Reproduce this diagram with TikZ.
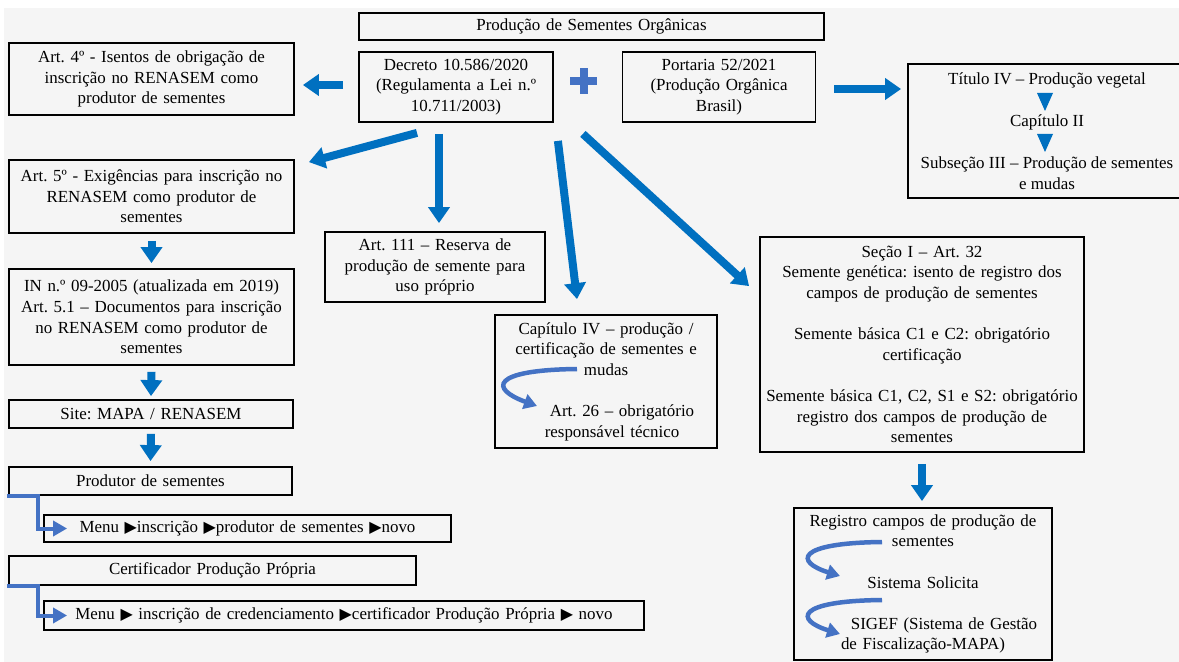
\documentclass[tikz,border=0pt]{standalone}
\usepackage{fontspec}
\setmainfont{Liberation Serif}
\newfontfamily\djv{DejaVu Sans}
\usetikzlibrary{arrows.meta,calc}
\definecolor{bgc}{HTML}{F5F5F5}
\definecolor{arrblue}{HTML}{0070C0}
\definecolor{lblue}{HTML}{4472C4}
\newcommand\tri{{\djv\fontsize{16}{16}\selectfont ▶}}
\frenchspacing
\begin{document}
\begin{tikzpicture}[x=1bp,y=-1bp,
  box/.style={draw=black, line width=1.8bp, inner sep=0pt, align=center, font=\fontsize{17}{20.7}\selectfont},
  txt/.style={inner sep=0pt, align=center, font=\fontsize{17}{20.7}\selectfont},
  bigarrow/.style={draw=arrblue, line width=8bp, -{Triangle[length=16bp,width=21bp]}},
  elbow/.style={draw=lblue, line width=4bp, -{Triangle[length=14bp,width=15bp]}},
  curvearrow/.style={draw=lblue, line width=4.5bp, -{Triangle[length=13bp,width=15bp]}},
]
\useasboundingbox (0,0) rectangle (1179,662);
\clip (0,0) rectangle (1179,662);
\fill[white] (0,0) rectangle (1179,662);
\fill[bgc] (4,8) rectangle (1179,662);

% boxes
\node[box, minimum width=465bp, minimum height=27bp, text width=455bp] (title) at (591.5,26.5) {Produção de Sementes Orgânicas};
\node[box, minimum width=194bp, minimum height=70bp, text width=186bp] (decreto) at (456,87) {Decreto 10.586/2020\\(Regulamenta a Lei n.º\\10.711/2003)};
\node[box, minimum width=193bp, minimum height=70bp, text width=185bp] (portaria) at (719,87) {Portaria 52/2021\\(Produção Orgânica\\Brasil)};
\node[box, minimum width=285bp, minimum height=72bp, text width=277bp] (art4) at (151.5,79) {Art. 4º - Isentos de obrigação de\\inscrição no RENASEM como\\produtor de sementes};
\node[box, minimum width=278bp, minimum height=134bp] (titulo) at (1047,131) {};
\node[box, minimum width=285bp, minimum height=73bp, text width=277bp] (art5) at (151.5,196.5) {Art. 5º - Exigências para inscrição no\\RENASEM como produtor de\\sementes};
\node[box, minimum width=285bp, minimum height=96bp, text width=277bp] (inbox) at (151.5,317) {IN n.º 09-2005 (atualizada em 2019)\\Art. 5.1 – Documentos para inscrição\\no RENASEM como produtor de\\sementes};
\node[box, minimum width=284bp, minimum height=28bp, text width=276bp] (site) at (151,414) {Site: MAPA / RENASEM};
\node[box, minimum width=283bp, minimum height=28bp, text width=275bp] (produtor) at (150.5,481) {Produtor de sementes};
\node[box, minimum width=407bp, minimum height=27bp, text width=399bp] (menu1) at (247.5,528.5) {Menu \tri inscrição \tri produtor de sementes \tri novo};
\node[box, minimum width=407bp, minimum height=29bp, text width=399bp] (cert) at (212.5,570.5) {Certificador Produção Própria};
\node[box, minimum width=600bp, minimum height=29bp, text width=592bp] (menu2) at (344,615.5) {Menu \tri\ inscrição de credenciamento \tri certificador Produção Própria \tri\ novo};
\node[box, minimum width=220bp, minimum height=70bp, text width=212bp] (art111) at (435,267) {Art. 111 – Reserva de\\produção de semente para\\uso próprio};
\node[box, minimum width=222bp, minimum height=133bp, text width=214bp] (cap4) at (606,381.5) {Capítulo IV – produção /\\certificação de sementes e\\mudas\\\mbox{}\\\hspace*{32bp}Art. 26 – obrigatório\\\hspace*{12bp}responsável técnico};
\node[box, minimum width=324bp, minimum height=215bp, text width=316bp] (secao) at (922,344.5) {Seção I – Art. 32\\Semente genética: isento de registro dos\\campos de produção de sementes\\\mbox{}\\Semente básica C1 e C2: obrigatório\\certificação\\\mbox{}\\Semente básica C1, C2, S1 e S2: obrigatório\\registro dos campos de produção de\\sementes};
\node[box, minimum width=258bp, minimum height=152bp, text width=250bp] (registro) at (923,584) {Registro campos de produção de\\sementes\\\mbox{}\\Sistema Solicita\\\mbox{}\\\hspace*{42bp}SIGEF (Sistema de Gestão\\de Fiscalização-MAPA)};

% contents of Titulo box
\node[txt] (t1) at (1047,80) {Título IV – Produção vegetal};
\node[txt] (t2) at (1047,122) {Capítulo II};
\node[txt] (t3) at (1047,173.5) {Subseção III – Produção de sementes\\e mudas};
\fill[arrblue] (1037,93) -- (1053,93) -- (1045,111) -- cycle;
\fill[arrblue] (1037,134) -- (1053,134) -- (1045,152) -- cycle;

% plus sign
\fill[lblue] (570,77) rectangle (597,85);
\fill[lblue] (579.5,68) rectangle (587.5,94);

% big arrows
\draw[bigarrow] ($(decreto.west)+(-15,-2)$) -- ($(decreto.west -| art4.east)+(8,-2)$);
\draw[bigarrow] ($(portaria.east)+(18,2)$) -- ($(portaria.east -| titulo.west)+(-6,2)$);
\draw[bigarrow] ($(decreto.south)+(-39,10)$) -- ($(art5.north east)+(14,3)$);
\draw[bigarrow] ($(decreto.south)+(-17,11)$) -- ($(art111.north)+(4,-8)$);
\draw[bigarrow] ($(decreto.south east)+(4,18)$) -- ($(cap4.north)+(-29,-15)$);
\draw[bigarrow] ($(decreto.south east)+(29,11)$) -- ($(secao.north west)+(-10,50)$);
\draw[bigarrow] ($(secao.south)+(0,11)$) -- ($(registro.north)+(-1,-6)$);
\draw[bigarrow] ($(art5.south)+(0,7)$) -- ($(inbox.north)+(0,-5)$);
\draw[bigarrow] ($(inbox.south)+(0,6)$) -- ($(site.north)+(0,-3)$);
\draw[bigarrow] ($(site.south)+(0,5)$) -- ($(produtor.north)+(0,-5)$);

% elbow arrows
\draw[elbow] ($(produtor.south west)+(-1,0)$) -- ++(31,0) |- ($(menu1.west)+(24,0)$);
\draw[elbow] ($(cert.south west)+(-1,0)$) -- ++(31,0) |- ($(menu2.west)+(24,0)$);

% curved arrows
\draw[curvearrow] (577,369) .. controls (490,370) and (490,389) .. (537,406);
\draw[curvearrow] (882,542) .. controls (795,543) and (795,562) .. (840,576);
\draw[curvearrow] (882,600) .. controls (795,601) and (795,620) .. (840,634);
\end{tikzpicture}
\end{document}
